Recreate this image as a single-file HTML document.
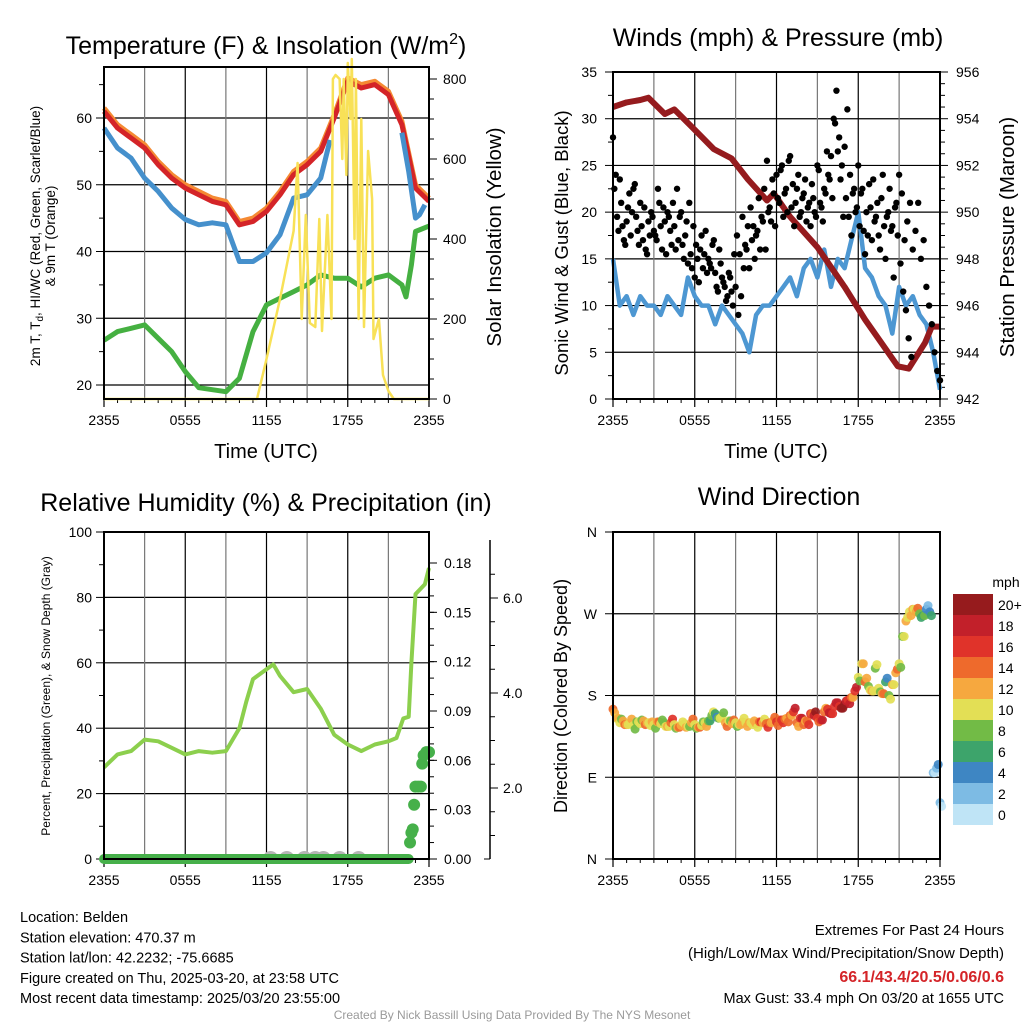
<!DOCTYPE html>
<html><head><meta charset="utf-8"><style>
html,body{margin:0;padding:0;background:#fff;}
svg{display:block;font-family:"Liberation Sans",Arial,sans-serif;}
</style></head><body>
<svg id="c" xmlns="http://www.w3.org/2000/svg" width="1024" height="1024" viewBox="0 0 1024 1024"></svg>
<script>
// ---------- DATA ----------
const xTickLabels = ["2355","0555","1155","1755","2355"];
const tempHours = [0,1,2,3,4,5,6,7,8,9,10,11,12,13,14,15,16,17,18,19,20,21,22,23,24];
const tempRed = [61,58.5,57,55.5,53,51,49.5,48.5,47.5,47,44,44.5,46,48.5,51.5,53,55,60,65.5,64.5,65,63.5,59,49.5,47.5];
const tempOrange = [61.5,59,57.5,56,53.5,51.5,50,49,48,47.5,44.5,45,46.5,49,52,53.5,55.5,60.5,66,65,65.5,64,59.5,50,48];
const hiHours = [0,1,2,3,4,5,6,7,8,9,10,11,12,13,14,15,16,16.7,null,22,22.5,23,23.3,23.7];
const hiValues = [58.5,55.5,54,51,49,46.5,44.8,44,44.3,44,38.5,38.5,39.8,42.5,48,48.5,51,56.7,null,57.8,52,45,45.5,47];
const dewHours = [0,1,2,3,4,5,6,7,8,9,10,11,12,13,14,15,16,17,18,19,20,21,22,22.3,22.7,23,24];
const dewValues = [26.7,28,28.5,29,27,25,22,19.6,19.3,19,21,28,32,33,34,35,36.5,36,36,34.7,36,36.5,35,33.2,38,43,43.8];
const solarHours = [0,11.3,12,13,14,14.3,14.6,14.9,15.2,15.6,15.9,16.1,16.5,16.8,16.9,17.1,17.4,17.6,17.7,17.9,18.0,18.2,18.3,18.5,18.6,18.8,19.0,19.2,19.5,19.8,19.9,20.3,20.6,21.0,21.4,24];
const solarValues = [0,0,100,250,420,590,200,460,190,180,450,170,460,200,800,810,800,600,800,560,840,700,850,400,800,200,700,180,620,500,150,200,60,20,0,0];
const tempTicks = [20,30,40,50,60];
const solarTicks = [0,200,400,600,800];

const pressHours = [0,1,2,2.6,3.8,4.5,5.7,7.4,8.7,9.9,11.3,11.8,13,15,17,18.5,20.9,21.7,22.9,23.4,24];
const pressValues = [954.5,954.7,954.8,954.9,954.2,954.4,953.7,952.7,952.3,951.4,950.5,950.8,949.8,948.5,946.8,945.4,943.4,943.3,944.4,945.1,945.1];
const windValues = [15,10,11,9,11,10,10,9,11,10,9,13,11,10,10,8,10,9,8,7,5,9,10,10,11,12,13,11,14,15,13,16,12,15,14,17,20,14,13,11,10,7,12,10,11,9,8,5,1];
const gustValues = [28,24,18,21,17,19,22,20,23,18,21,17,16,19,20,18,17,21,16,19,20,18,21,16,17,20,15,19,21,14,13,15,16,14,18,15,14,17,12,16,13,12,11,13,10,12,9,11,14,16,14,17,15,18,16,19,16,20,19,22,24,21,25,22,20,26,23,21,24,20,22,19,21,23,20,25,21,19,22,24,26,30,33,28,25,27,31,24,22,20,25,22,18,20,23,17,19,21,16,24,15,20,18,13,21,24,22,17,19,21,16,18,21,15,17,12,10,8,5,3,2];
const gust2Values = [22,19,23,18,16,20,17,22,19,16,18,20,15,17,19,17,22,18,20,15,19,16,18,22,19,16,17,14,15,18,16,12,17,15,13,14,16,13,11,14,12,10,13,11,15,17,15,19,16,18,20,18,17,21,19,22,25,20,23,18,21,24,19,22,25,20,18,22,19,21,23,20,18,21,19,24,20,22,26,23,21,29,26,23,19,21,19,17,22,20,18,22,15,17,20,23,19,17,21,18,19,22,18,20,17,14,11,9,6,4];
const windTicks = [0,5,10,15,20,25,30,35];
const pressTicks = [942,944,946,948,950,952,954,956];

const rhHours = [0,1,2,3,4,5,6,7,8,9,10,10.5,11,12,12.5,13,14,15,16,17,18,19,20,21,21.6,22.1,22.5,22.7,23,23.7,24];
const rhValues = [28,32,33,36.5,36,34,32,33,32.5,33,40,48,55,58,59.5,56,51,52,46,38,35,33,35,36,37,43,43.5,60,81,84,89];
const precipHours = [22.6,22.7,22.8,22.9,23.0,23.2,23.4,23.5,23.6,23.8,24.0];
const precipValues = [0.01,0.016,0.018,0.033,0.044,0.044,0.044,0.058,0.063,0.065,0.065];
const snowHours = [12.3,13.5,14.8,15.6,16.2,17.4,18.8];
const snowValues = [0.03,0.02,0.035,0.02,0.03,0.02,0.02];
const rhTicks = [0,20,40,60,80,100];
const precipTicks = ["0.00","0.03","0.06","0.09","0.12","0.15","0.18"];
const snowTicks = ["2.0","4.0","6.0"];

const dirValues = [165,155,150,152,148,150,147,151,149,152,150,147,148,151,149,150,146,150,148,145,147,149,146,150,148,145,147,150,152,158,160,155,157,150,152,149,150,148,151,150,150,148,149,151,150,149,150,152,151,153,150,155,158,162,150,155,148,152,160,158,155,153,162,165,160,168,172,166,170,175,178,185,200,215,195,190,185,210,188,182,195,180,192,205,215,245,262,272,275,272,270,268,275,272,95,100,62];
const dirSpeeds = [14,10,9,11,12,10,9,8,10,12,11,9,10,11,10,8,12,13,10,11,12,10,9,11,10,11,10,9,8,7,6,8,10,11,10,12,9,10,11,10,11,10,12,13,12,14,13,12,15,14,16,12,13,15,14,16,14,13,15,17,16,15,14,16,17,15,18,20,19,16,14,15,9,10,13,8,11,7,10,12,6,8,11,12,10,8,12,9,12,11,8,5,3,4,1,2,1];
const dirTicks = ["N","E","S","W","N"];
const speedLabels = ["0","2","4","6","8","10","12","14","16","18","20+"];
const speedColors = ["#bfe4f6","#7dbbe4","#3e86c3","#3da46b","#72bb46","#e3df55","#f6a83f","#ee6a2c","#e0332a","#c2202a","#961b1d"];

// ---------- HELPERS ----------
const NS="http://www.w3.org/2000/svg";
const svg=document.getElementById('c');
function el(tag,attrs,parent,text){const e=document.createElementNS(NS,tag);for(const k in attrs)e.setAttribute(k,attrs[k]);if(text!==undefined)e.textContent=text;(parent||svg).appendChild(e);return e;}
function lin(d0,d1,r0,r1){return v=>r0+(v-d0)*(r1-r0)/(d1-d0);}
function pathFrom(xs,ys,fx,fy){let d="",pen=false;for(let i=0;i<xs.length;i++){if(xs[i]===null||ys[i]===null){pen=false;continue;}d+=(pen?"L":"M")+fx(xs[i]).toFixed(1)+" "+fy(ys[i]).toFixed(1);pen=true;}return d;}
function txt(x,y,s,size,anchor,parent,extra){const t=el('text',Object.assign({x:x,y:y,'font-size':size,'text-anchor':anchor||'middle',fill:'#000'},extra||{}),parent,s);return t;}

function frame(name){
  const g=el('g',{});  
  return g;
}
function xAxis(g,fx,y0,y1){
  for(let h=3;h<24;h+=3){const l=el('line',{x1:fx(h),x2:fx(h),y1:y0,y2:y1,stroke:(h%6===0)?'#000':'#777','stroke-width':1.2},g);}
  for(let i=0;i<xTickLabels.length;i++){const h=i*6;
    el('line',{x1:fx(h),x2:fx(h),y1:y1,y2:y1+8,stroke:'#000','stroke-width':1.2},g);
    for(let m=1;m<6&&h+m<24;m++)if(i<4)el('line',{x1:fx(h+m*1),x2:fx(h+m*1),y1:y1,y2:y1+4,stroke:'#000'},g);
    const t=txt(fx(h),y1+26,xTickLabels[i],14,'middle',g);}
}

// ---------- PANEL 1 ----------
(function(){
  const X0=104,X1=429,Y0=67,Y1=399;
  const g=frame('temperature-panel');
  const fx=lin(0,24,X0,X1), fy=lin(20,60,385,118), fs=lin(0,800,399,79);
  tempTicks.forEach(v=>{el('line',{x1:X0,x2:X1,y1:fy(v),y2:fy(v),stroke:'#000','stroke-width':1.2},g);el('line',{x1:X0-8,x2:X0,y1:fy(v),y2:fy(v),stroke:'#000'},g);const t=txt(X0-12,fy(v)+5,String(v),14,'end',g);});
  for(let v=25;v<=65;v+=10)el('line',{x1:X0-5,x2:X0,y1:fy(v),y2:fy(v),stroke:'#000'},g);
  solarTicks.forEach(v=>{el('line',{x1:X1,x2:X1+8,y1:fs(v),y2:fs(v),stroke:'#000'},g);const t=txt(X1+14,fs(v)+5,String(v),14,'start',g);});
  for(let v=50;v<=800;v+=50)if(v%200)el('line',{x1:X1,x2:X1+5,y1:fs(v),y2:fs(v),stroke:'#000'},g);
  xAxis(g,fx,Y0,Y1);
  let p;
  p=el('path',{d:pathFrom(dewHours,dewValues,fx,fy),fill:'none',stroke:'#45b041','stroke-width':5,'stroke-linejoin':'round'},g);
  p=el('path',{d:pathFrom(tempHours,tempOrange,fx,fy),fill:'none',stroke:'#f58a33','stroke-width':5,'stroke-linejoin':'round'},g);
  p=el('path',{d:pathFrom(tempHours,tempRed,fx,fy),fill:'none',stroke:'#d42428','stroke-width':5,'stroke-linejoin':'round'},g);
  p=el('path',{d:pathFrom(hiHours,hiValues,fx,fy),fill:'none',stroke:'#4590cc','stroke-width':5,'stroke-linejoin':'round'},g);
  p=el('path',{d:pathFrom(solarHours,solarValues,fx,fs),fill:'none',stroke:'#f8e157','stroke-width':2.5,'stroke-linejoin':'round'},g);
  el('rect',{x:X0,y:Y0,width:X1-X0,height:Y1-Y0,fill:'none',stroke:'#000','stroke-width':2},g);
  let t=el('text',{x:266,y:54,'font-size':25,'text-anchor':'middle'},g);
  t.innerHTML='Temperature (F) &amp; Insolation (W/m<tspan dy="-10" font-size="16">2</tspan><tspan dy="10">)</tspan>';
  t=txt(266,458,'Time (UTC)',20,'middle',g);
  t=el('text',{x:0,y:0,'font-size':13.5,'text-anchor':'middle',transform:'translate(40,236) rotate(-90)'},g);
  t.innerHTML='2m T, T<tspan dy="3" font-size="10">d</tspan><tspan dy="-3">, HI/WC (Red, Green, Scarlet/Blue)</tspan>';
  t=el('text',{x:0,y:0,'font-size':13.5,'text-anchor':'middle',transform:'translate(55,236) rotate(-90)'},g,'& 9m T (Orange)');
  t=el('text',{x:0,y:0,'font-size':20.5,'text-anchor':'middle',transform:'translate(501,237) rotate(-90)'},g,'Solar Insolation (Yellow)');
})();

// ---------- PANEL 2 ----------
(function(){
  const X0=613,X1=940,Y0=72,Y1=399;
  const g=frame('winds-panel');
  const fx=lin(0,24,X0,X1), fy=lin(0,35,399,72), fp=lin(942,956,399,72);
  windTicks.forEach(v=>{if(v>0&&v<35)el('line',{x1:X0,x2:X1,y1:fy(v),y2:fy(v),stroke:'#000','stroke-width':1.2},g);el('line',{x1:X0-8,x2:X0,y1:fy(v),y2:fy(v),stroke:'#000'},g);const t=txt(X0-16,fy(v)+5,String(v),14,'end',g);});
  for(let v=2.5;v<35;v+=5)el('line',{x1:X0-5,x2:X0,y1:fy(v),y2:fy(v),stroke:'#000'},g);
  pressTicks.forEach(v=>{el('line',{x1:X1,x2:X1+8,y1:fp(v),y2:fp(v),stroke:'#000'},g);const t=txt(X1+16,fp(v)+5,String(v),14,'start',g);});
  for(let v=942.5;v<956;v+=0.5)if(v%2)el('line',{x1:X1,x2:X1+5,y1:fp(v),y2:fp(v),stroke:'#000'},g);
  xAxis(g,fx,Y0,Y1);
  const wh=windValues.map((v,i)=>i*0.5);
  let p=el('path',{d:pathFrom(wh,windValues,fx,fy),fill:'none',stroke:'#4d97d2','stroke-width':4.5,'stroke-linejoin':'round'},g);
  p=el('path',{d:pathFrom(pressHours,pressValues,fx,fp),fill:'none',stroke:'#951b1e','stroke-width':6,'stroke-linejoin':'round'},g);
  gustValues.forEach((v,i)=>{const c=el('circle',{cx:fx(i*0.2),cy:fy(v),r:3.2,fill:'#000'},g);});
  gust2Values.forEach((v,i)=>{const c=el('circle',{cx:fx(i*0.2+0.1),cy:fy(v+0.5),r:3.2,fill:'#000'},g);});
  el('rect',{x:X0,y:Y0,width:X1-X0,height:Y1-Y0,fill:'none',stroke:'#000','stroke-width':2},g);
  let t=txt(778,46,'Winds (mph) & Pressure (mb)',25,'middle',g);
  t=txt(776,458,'Time (UTC)',20,'middle',g);
  t=el('text',{x:0,y:0,'font-size':18.5,'text-anchor':'middle',transform:'translate(568,243) rotate(-90)'},g,'Sonic Wind & Gust (Blue, Black)');
  t=el('text',{x:0,y:0,'font-size':20.5,'text-anchor':'middle',transform:'translate(1014,237) rotate(-90)'},g,'Station Pressure (Maroon)');
})();

// ---------- PANEL 3 ----------
(function(){
  const X0=104,X1=429,Y0=532,Y1=859;
  const g=frame('humidity-panel');
  const fx=lin(0,24,X0,X1), fy=lin(0,100,859,532), fpr=lin(0,0.18,859,563), fsn=lin(2,6,788,598);
  rhTicks.forEach(v=>{if(v>0&&v<100)el('line',{x1:X0,x2:X1,y1:fy(v),y2:fy(v),stroke:'#000','stroke-width':1.2},g);el('line',{x1:X0-8,x2:X0,y1:fy(v),y2:fy(v),stroke:'#000'},g);const t=txt(X0-12,fy(v)+5,String(v),14,'end',g);});
  for(let v=10;v<100;v+=20)el('line',{x1:X0-5,x2:X0,y1:fy(v),y2:fy(v),stroke:'#000'},g);
  precipTicks.forEach(s=>{const v=parseFloat(s);el('line',{x1:X1,x2:X1+8,y1:fpr(v),y2:fpr(v),stroke:'#000'},g);const t=txt(X1+15,fpr(v)+5,s,14,'start',g);});
  for(let v=0.01;v<0.19;v+=0.01)el('line',{x1:X1,x2:X1+5,y1:fpr(v),y2:fpr(v),stroke:'#000'},g);
  el('line',{x1:490,x2:490,y1:540,y2:859,stroke:'#000','stroke-width':1.5},g);
  el('line',{x1:484,x2:490,y1:859,y2:859,stroke:'#000'},g);
  for(let v=0.5;v<7;v+=0.5){const y=fsn(v);if(y<859&&y>540)el('line',{x1:490,x2:v%2?495:498,y1:y,y2:y,stroke:'#000'},g);}
  snowTicks.forEach(s=>{const v=parseFloat(s);const t=txt(503,fsn(v)+5,s,14,'start',g);});
  xAxis(g,fx,Y0,Y1);
  snowHours.forEach((h,i)=>{const c=el('ellipse',{cx:fx(h),cy:fy(0)-2,rx:7,ry:6,fill:'#b5b5b5'},g);});
  let p=el('path',{d:pathFrom(rhHours,rhValues,fx,fy),fill:'none',stroke:'#8ccf4d','stroke-width':4,'stroke-linejoin':'round'},g);
  p=el('line',{x1:fx(0),x2:fx(22.5),y1:fpr(0),y2:fpr(0),stroke:'#46b04a','stroke-width':10,'stroke-linecap':'round'},g);
  precipHours.forEach((h,i)=>{const c=el('circle',{cx:fx(h),cy:fpr(precipValues[i]),r:6,fill:'#46b04a'},g);});
  el('rect',{x:X0,y:Y0,width:X1-X0,height:Y1-Y0,fill:'none',stroke:'#000','stroke-width':2},g);
  let t=txt(266,511,'Relative Humidity (%) & Precipitation (in)',25,'middle',g);
  t=el('text',{x:0,y:0,'font-size':12,'text-anchor':'middle',transform:'translate(50,696) rotate(-90)'},g,'Percent, Precipitation (Green), & Snow Depth (Gray)');
})();

// ---------- PANEL 4 ----------
(function(){
  const X0=613,X1=940,Y0=532,Y1=859;
  const g=frame('wind-direction-panel');
  const fx=lin(0,24,X0,X1), fy=lin(0,360,859,532);
  dirTicks.forEach((s,i)=>{const v=i*90;if(i>0&&i<4)el('line',{x1:X0,x2:X1,y1:fy(v),y2:fy(v),stroke:'#000','stroke-width':1.2},g);el('line',{x1:X0-8,x2:X0,y1:fy(v),y2:fy(v),stroke:'#000'},g);const t=txt(X0-16,fy(v)+5,s,14,'end',g);});
  xAxis(g,fx,Y0,Y1);
  dirValues.forEach((v,i)=>{const s=dirSpeeds[i];const ci=Math.min(10,Math.round(s/2));
    const c=el('circle',{cx:fx(i*0.25),cy:fy(v),r:4.5,fill:speedColors[ci],'fill-opacity':0.92},g);
    const c2=el('circle',{cx:fx(i*0.25+0.12),cy:fy(v+(i%3-1)*4),r:4.5,fill:speedColors[Math.min(10,Math.max(0,ci+(i%2?1:-1)))],'fill-opacity':0.92},g);});
  el('rect',{x:X0,y:Y0,width:X1-X0,height:Y1-Y0,fill:'none',stroke:'#000','stroke-width':2},g);
  let t=txt(779,505,'Wind Direction',25,'middle',g);
  t=el('text',{x:0,y:0,'font-size':18,'text-anchor':'middle',transform:'translate(567,696) rotate(-90)'},g,'Direction (Colored By Speed)');
  const lg=el('g',{},g);
  t=txt(1006,587,'mph',14,'middle',lg);
  speedLabels.forEach((s,i)=>{const y=825-(i+1)*21;
    const r=el('rect',{x:953,y:y,width:40,height:21,fill:speedColors[i]},lg);
    const tt=txt(998,y+16,s,14,'start',lg);});
})();

// ---------- FOOTER ----------
(function(){
  const g=el('g',{});
  const left=["Location: Belden","Station elevation: 470.37 m","Station lat/lon: 42.2232; -75.6685","Figure created on Thu, 2025-03-20, at 23:58 UTC","Most recent data timestamp: 2025/03/20 23:55:00"];
  left.forEach((s,i)=>{const t=txt(20,922+i*20.3,s,14.5,'start',g);});
  let t=txt(1004,935,'Extremes For Past 24 Hours',15,'end',g);
  t=txt(1004,958,'(High/Low/Max Wind/Precipitation/Snow Depth)',15,'end',g);
  t=txt(1004,982,'66.1/43.4/20.5/0.06/0.6',16,'end',g,{fill:'#d42428','font-weight':'bold'});
  t=txt(1004,1003,'Max Gust: 33.4 mph On 03/20 at 1655 UTC',14.5,'end',g);
  t=txt(512,1019,'Created By Nick Bassill Using Data Provided By The NYS Mesonet',12,'middle',g,{fill:'#9a9a9a'});
})();
</script>
</body></html>
